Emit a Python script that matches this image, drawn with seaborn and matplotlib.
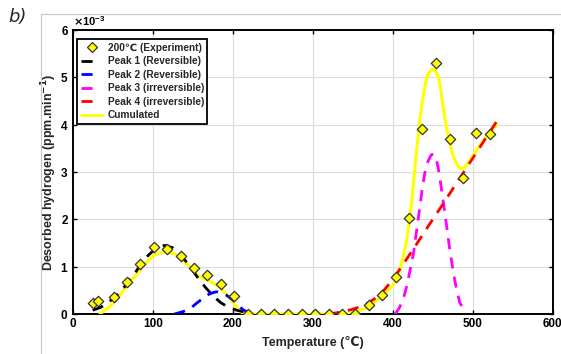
import matplotlib
matplotlib.use("Agg")
import matplotlib.pyplot as plt
import matplotlib.ticker as mticker
from matplotlib.lines import Line2D
import seaborn as sns
import pandas as pd
import numpy as np

# ---- data (values in units of 1e-3 ppm.min^-1) ----
exp_T = [25, 31, 51, 68, 84, 102, 118, 135, 152, 168, 185, 202, 219, 235, 252, 269,
         286, 303, 320, 336, 353, 370, 386, 404, 420, 437, 454, 471, 488, 504, 521]
exp_v = [0.24, 0.28, 0.35, 0.68, 1.06, 1.42, 1.37, 1.23, 0.97, 0.82, 0.63, 0.38, 0, 0, 0, 0,
         0, 0, 0, 0, 0, 0.18, 0.40, 0.79, 2.02, 3.90, 5.31, 3.69, 2.88, 3.83, 3.80]

p1_T = [25, 35, 45, 55, 65, 75, 85, 95, 105, 115, 125, 135, 145, 155, 165, 175, 185, 195, 205, 215]
p1_v = [0.08, 0.14, 0.25, 0.39, 0.58, 0.80, 1.04, 1.25, 1.40, 1.45, 1.40, 1.25, 1.04, 0.80,
        0.58, 0.39, 0.24, 0.14, 0.08, 0.04]

p2_T = [127, 138, 148, 155, 162, 168, 175, 180, 185, 192, 200, 207, 213, 220, 230]
p2_v = [0.0, 0.05, 0.13, 0.23, 0.32, 0.40, 0.45, 0.47, 0.46, 0.40, 0.30, 0.18, 0.09, 0.03, 0.0]

p3_T = [403, 408, 413, 418, 422, 426, 430, 434, 437, 440, 444, 448, 451, 454, 457, 460,
        464, 467.5, 471, 476, 480, 484, 490]
p3_v = [0.0, 0.12, 0.30, 0.62, 0.95, 1.28, 1.78, 2.27, 2.65, 2.97, 3.22, 3.36, 3.38, 3.30,
        3.08, 2.75, 2.28, 1.85, 1.40, 0.86, 0.50, 0.23, 0.08]

p4_T = [320, 335, 350, 365, 380, 390, 401, 415, 430, 445, 460, 475, 490, 505, 520, 530]
p4_v = [0.0, 0.04, 0.10, 0.19, 0.35, 0.52, 0.75, 1.10, 1.48, 1.87, 2.25, 2.64, 3.03, 3.42, 3.81, 4.07]

cum_T = [34, 42, 51, 59, 67, 76, 84, 92, 101, 108, 115, 121, 127, 135, 143, 150, 156, 162,
         168, 174, 180, 186, 193, 199, 205, 210, 214, 345, 357, 370, 386, 399, 405, 409, 413,
         417.5, 421, 424, 427, 430, 433, 436, 440, 444, 448, 451, 454, 457, 460, 463, 466,
         469.5, 473, 476, 479, 482, 486, 490, 496, 505, 517, 530]
cum_v = [0.0, 0.10, 0.23, 0.40, 0.58, 0.76, 0.93, 1.09, 1.23, 1.29, 1.31, 1.30, 1.27, 1.18,
         1.06, 0.92, 0.82, 0.76, 0.72, 0.67, 0.61, 0.52, 0.40, 0.27, 0.15, 0.05, 0.0, 0.0,
         0.06, 0.15, 0.37, 0.58, 0.75, 0.93, 1.20, 1.56, 2.00, 2.41, 2.95, 3.47, 3.95, 4.38,
         4.80, 5.07, 5.16, 5.17, 5.12, 5.02, 4.75, 4.38, 4.05, 3.75, 3.50, 3.33, 3.20, 3.11,
         3.07, 3.09, 3.24, 3.47, 3.75, 4.00]

x_ticks = [0, 100, 200, 300, 400, 500, 600]
y_ticks = [0, 1, 2, 3, 4, 5, 6]

labels = ["200\u2103 (Experiment)", "Peak 1 (Reversible)", "Peak 2 (Reversible)",
          "Peak 3 (irreversible)", "Peak 4 (irreversible)", "Cumulated"]

# ---- style ----
sns.set_theme(style="ticks")
plt.rcParams['font.family'] = ['Liberation Sans', 'DejaVu Sans']
plt.rcParams['font.weight'] = 'bold'
plt.rcParams['mathtext.default'] = 'bf'

W, H = 561, 354
fig = plt.figure(figsize=(W / 100, H / 100), dpi=100)
ax = fig.add_axes([72.7 / W, 1 - 314 / H, (552.7 - 72.7) / W, (314 - 30) / H])

S = 1e-3
def df(T, v):
    return pd.DataFrame({"T": T, "v": np.asarray(v) * S})

dash = (4, 3)
sns.lineplot(data=df(cum_T, cum_v), x="T", y="v", ax=ax, color=(1, 1, 0), lw=2.2,
             sort=False, estimator=None, zorder=3)
sns.lineplot(data=df(p1_T, p1_v), x="T", y="v", ax=ax, color="black", lw=2.0,
             sort=False, estimator=None, zorder=4).lines[-1].set_dashes(dash)
sns.lineplot(data=df(p2_T, p2_v), x="T", y="v", ax=ax, color=(0, 0, 1), lw=2.0,
             sort=False, estimator=None, zorder=4).lines[-1].set_dashes(dash)
sns.lineplot(data=df(p3_T, p3_v), x="T", y="v", ax=ax, color=(1, 0, 1), lw=2.0,
             sort=False, estimator=None, zorder=4).lines[-1].set_dashes(dash)
sns.lineplot(data=df(p4_T, p4_v), x="T", y="v", ax=ax, color=(1, 0, 0), lw=2.0,
             sort=False, estimator=None, zorder=4).lines[-1].set_dashes(dash)
sns.scatterplot(data=df(exp_T, exp_v), x="T", y="v", ax=ax, marker="D", s=28,
                color=(1, 1, 0), edgecolor="#333333", linewidth=0.9, zorder=5)

ax.set_xlim(0, 600)
ax.set_ylim(0, 6e-3)
ax.set_xticks(x_ticks)
ax.set_yticks([t * S for t in y_ticks])
fmt = mticker.ScalarFormatter(useMathText=True)
fmt.set_powerlimits((-3, -3))
ax.yaxis.set_major_formatter(fmt)
ax.yaxis.get_offset_text().set_fontsize(8)
ax.yaxis.get_offset_text().set_fontweight('bold')

ax.grid(True, color="#dcdcdc", lw=0.8)
ax.set_axisbelow(True)
for sp in ax.spines.values():
    sp.set_visible(True)
    sp.set_color("black")
    sp.set_linewidth(1.4)
ax.tick_params(direction="in", length=3, width=1, top=True, right=True,
               labelsize=8.5, pad=3, colors="black")
for lab in ax.get_xticklabels() + ax.get_yticklabels():
    lab.set_fontweight("bold")

ax.set_xlabel("Temperature (\u2103)", fontsize=9, fontweight="bold", labelpad=4)
ax.set_ylabel("Desorbed hydrogen (ppm.min$^{-1}$)", fontsize=9, fontweight="bold", labelpad=1)

handles = [
    Line2D([], [], ls="none", marker="D", ms=5.5, mfc=(1, 1, 0), mec="#333333", mew=0.9),
    Line2D([], [], color="black", lw=2, dashes=(4, 6)),
    Line2D([], [], color=(0, 0, 1), lw=2, dashes=(4, 6)),
    Line2D([], [], color=(1, 0, 1), lw=2, dashes=(4, 6)),
    Line2D([], [], color=(1, 0, 0), lw=2, dashes=(4, 6)),
    Line2D([], [], color=(1, 1, 0), lw=2),
]
leg = ax.legend(handles, labels, loc="upper left", bbox_to_anchor=(0.005, 0.975),
                prop={"size": 7.3, "weight": "bold"}, handlelength=2.2, handletextpad=0.45,
                labelspacing=0.35, borderpad=0.35, fancybox=False, framealpha=1,
                edgecolor="black", borderaxespad=0.2)
leg.get_frame().set_linewidth(1.3)

fig.text(8 / W, 1 - 22 / H, "b)", fontsize=13, style="italic", fontweight="normal",
         family=["DejaVu Sans"])
# faint frame lines of the original figure
fig.add_artist(Line2D([41 / W, 41 / W], [0, 1 - 14 / H], color="#c8c8c8", lw=0.8))
fig.add_artist(Line2D([41 / W, 1], [1 - 14 / H, 1 - 14 / H], color="#c8c8c8", lw=0.8))

fig.savefig("out.png", dpi=100)
